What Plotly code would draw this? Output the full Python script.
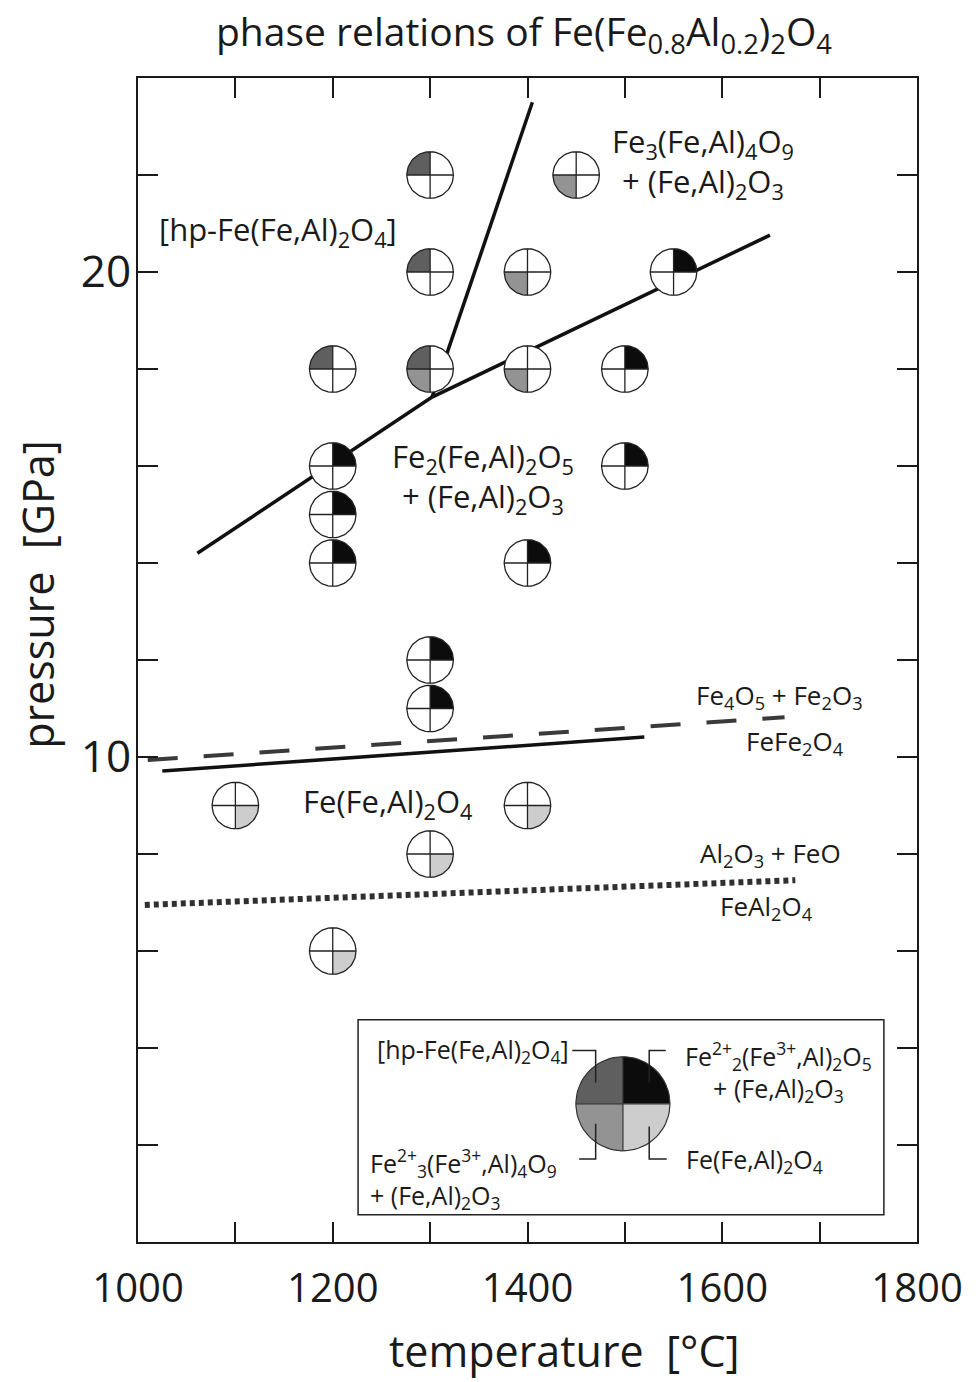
import numpy as np
import plotly.graph_objects as go

# ---------------- data ----------------
# experimental run conditions (temperature in degC, pressure in GPa)
temperature_c = [1300, 1450, 1300, 1400, 1550, 1200, 1300, 1400, 1500, 1200,
                 1500, 1200, 1200, 1400, 1300, 1300, 1100, 1400, 1300, 1200]
pressure_gpa = [22, 22, 20, 20, 20, 18, 18, 18, 18, 16,
                16, 15, 14, 14, 12, 11, 9, 9, 8, 6]
# phases observed in each run (1 = present)
has_hp_spinel = [1, 0, 1, 0, 0, 1, 1, 0, 0, 0, 0, 0, 0, 0, 0, 0, 0, 0, 0, 0]   # upper-left
has_fe4o5     = [0, 0, 0, 0, 1, 0, 0, 0, 1, 1, 1, 1, 1, 1, 1, 1, 0, 0, 0, 0]   # upper-right
has_fe7o9     = [0, 1, 0, 1, 0, 0, 1, 1, 0, 0, 0, 0, 0, 0, 0, 0, 0, 0, 0, 0]   # lower-left
has_spinel    = [0, 0, 0, 0, 0, 0, 0, 0, 0, 0, 0, 0, 0, 0, 0, 0, 1, 1, 1, 1]   # lower-right

# phase boundaries
bnd_main_t = [1061, 1302, 1649]
bnd_main_p = [14.2, 17.42, 20.76]
bnd_hp_t = [1302, 1405]
bnd_hp_p = [17.42, 23.5]
bnd_fe4o5_t = [1025, 1520]
bnd_fe4o5_p = [9.71, 10.41]
ref_fe4o5_t = [1010, 1664]
ref_fe4o5_p = [9.94, 10.82]
ref_feal_t = [1007, 1675]
ref_feal_p = [6.95, 7.46]

# axes ticks
x_tickvals = [1000, 1100, 1200, 1300, 1400, 1500, 1600, 1700, 1800]
x_ticktext = ["1000", "", "1200", "", "1400", "", "1600", "", "1800"]
y_tickvals = [0, 2, 4, 6, 8, 10, 12, 14, 16, 18, 20, 22, 24]
y_ticktext = ["", "", "", "", "", "10", "", "", "", "", "20", "", ""]

# legend symbol position
legend_center_t = 1498
legend_center_p = 2.85

# ---------------- styling ----------------
FONT = "Open Sans"
C_HP = "#5f5f5f"
C_FE4 = "#0c0c0c"
C_FE7 = "#939393"
C_SP = "#cdcdcd"
RX, RY = 23.9, 0.48          # symbol radius in data units
LRX, LRY = 48.3, 0.97        # legend symbol radius

QUAD = {"ul": (np.pi / 2, np.pi), "ur": (0, np.pi / 2),
        "ll": (np.pi, 1.5 * np.pi), "lr": (1.5 * np.pi, 2 * np.pi)}


def wedge(cx, cy, rx, ry, key, n=24):
    a0, a1 = QUAD[key]
    t = np.linspace(a0, a1, n)
    xs = [cx] + list(cx + rx * np.cos(t)) + [cx, None]
    ys = [cy] + list(cy + ry * np.sin(t)) + [cy, None]
    return xs, ys


def disk(cx, cy, rx, ry, n=72):
    t = np.linspace(0, 2 * np.pi, n)
    return list(cx + rx * np.cos(t)) + [None], list(cy + ry * np.sin(t)) + [None]


def outline(cx, cy, rx, ry):
    xs, ys = disk(cx, cy, rx, ry)
    xs += [cx - rx, cx + rx, None, cx, cx, None]
    ys += [cy, cy, None, cy - ry, cy + ry, None]
    return xs, ys


fig = go.Figure()

# boundaries (below symbols)
fig.add_trace(go.Scatter(x=ref_feal_t, y=ref_feal_p, mode="lines",
                         line=dict(color="#303030", width=6, dash="5px,4px"), hoverinfo="skip"))
fig.add_trace(go.Scatter(x=ref_fe4o5_t, y=ref_fe4o5_p, mode="lines",
                         line=dict(color="#3a3a3a", width=4, dash="30px,26px"), hoverinfo="skip"))
for xs, ys in [(bnd_main_t, bnd_main_p), (bnd_hp_t, bnd_hp_p), (bnd_fe4o5_t, bnd_fe4o5_p)]:
    fig.add_trace(go.Scatter(x=xs, y=ys, mode="lines",
                             line=dict(color="#111111", width=3.5), hoverinfo="skip"))

# white disks
dx, dy = [], []
for t, p in zip(temperature_c, pressure_gpa):
    a, b = disk(t, p, RX, RY)
    dx += a
    dy += b
fig.add_trace(go.Scatter(x=dx, y=dy, mode="lines", fill="toself", fillcolor="white",
                         line=dict(width=0, color="white"), hoverinfo="skip"))

# filled quadrants
for flags, key, col in [(has_hp_spinel, "ul", C_HP), (has_fe4o5, "ur", C_FE4),
                        (has_fe7o9, "ll", C_FE7), (has_spinel, "lr", C_SP)]:
    qx, qy = [], []
    for t, p, f in zip(temperature_c, pressure_gpa, flags):
        if f:
            a, b = wedge(t, p, RX, RY, key)
            qx += a
            qy += b
    fig.add_trace(go.Scatter(x=qx, y=qy, mode="lines", fill="toself", fillcolor=col,
                             line=dict(width=0, color=col), hoverinfo="skip"))

# outlines and crosses
ox, oy = [], []
for t, p in zip(temperature_c, pressure_gpa):
    a, b = outline(t, p, RX, RY)
    ox += a
    oy += b
fig.add_trace(go.Scatter(x=ox, y=oy, mode="lines",
                         line=dict(color="#222222", width=1.3), hoverinfo="skip"))

# legend symbol
for key, col in [("ul", C_HP), ("ur", C_FE4), ("ll", C_FE7), ("lr", C_SP)]:
    a, b = wedge(legend_center_t, legend_center_p, LRX, LRY, key, n=40)
    fig.add_trace(go.Scatter(x=a, y=b, mode="lines", fill="toself", fillcolor=col,
                             line=dict(width=0, color=col), hoverinfo="skip"))
a, b = outline(legend_center_t, legend_center_p, LRX, LRY)
fig.add_trace(go.Scatter(x=a, y=b, mode="lines",
                         line=dict(color="#333333", width=1.2), hoverinfo="skip"))

# legend brackets (relative to legend symbol)
lc, lp = legend_center_t, legend_center_p
bx = [lc - 52, lc - 28, lc - 28, None,
      lc + 44, lc + 27, lc + 27, None,
      lc - 45, lc - 28, lc - 28, None,
      lc + 45, lc + 27, lc + 27, None]
by = [lp + 1.10, lp + 1.10, lp + 0.44, None,
      lp + 1.10, lp + 1.10, lp + 0.44, None,
      lp - 1.14, lp - 1.14, lp - 0.41, None,
      lp - 1.14, lp - 1.14, lp - 0.47, None]
fig.add_trace(go.Scatter(x=bx, y=by, mode="lines",
                         line=dict(color="#222222", width=1.5), hoverinfo="skip"))

# legend box
fig.add_shape(type="rect", xref="x", yref="y", x0=1226, x1=1766, y0=0.56, y1=4.58,
              line=dict(color="#222222", width=1.5), fillcolor="rgba(0,0,0,0)", layer="below")

ann = []


def label(text, x, y, size, xanchor="center", align="center", ref="data", **kw):
    d = dict(text=text, x=x, y=y, showarrow=False, xanchor=xanchor, yanchor="middle",
             align=align, font=dict(family=FONT, size=size, color="#1a1a1a"))
    if ref == "data":
        d.update(xref="x", yref="y")
    else:
        d.update(xref="paper", yref="paper")
    d.update(kw)
    ann.append(d)


label("[hp-Fe(Fe,Al)<sub>2</sub>O<sub>4</sub>]", 1020, 20.85, 31, xanchor="left")
label("Fe<sub>3</sub>(Fe,Al)<sub>4</sub>O<sub>9</sub><br>+ (Fe,Al)<sub>2</sub>O<sub>3</sub>", 1580, 22.25, 31)
label("Fe<sub>2</sub>(Fe,Al)<sub>2</sub>O<sub>5</sub><br>+ (Fe,Al)<sub>2</sub>O<sub>3</sub>", 1354, 15.75, 31)
label("Fe(Fe,Al)<sub>2</sub>O<sub>4</sub>", 1257, 9.05, 31)
label("Fe<sub>4</sub>O<sub>5</sub> + Fe<sub>2</sub>O<sub>3</sub>", 1659, 11.25, 26)
label("FeFe<sub>2</sub>O<sub>4</sub>", 1675, 10.3, 26)
label("Al<sub>2</sub>O<sub>3</sub> + FeO", 1650, 8.0, 26)
label("FeAl<sub>2</sub>O<sub>4</sub>", 1645, 6.9, 26)

# legend texts
label("[hp-Fe(Fe,Al)<sub>2</sub>O<sub>4</sub>]", 1445, 3.95, 25, xanchor="right")
label("Fe<sup>2+</sup><sub>2</sub>(Fe<sup>3+</sup>,Al)<sub>2</sub>O<sub>5</sub><br>+ (Fe,Al)<sub>2</sub>O<sub>3</sub>",
      1658, 3.5, 25)
label("Fe<sup>2+</sup><sub>3</sub>(Fe<sup>3+</sup>,Al)<sub>4</sub>O<sub>9</sub><br>+ (Fe,Al)<sub>2</sub>O<sub>3</sub>",
      1236, 1.3, 25, xanchor="left", align="left")
label("Fe(Fe,Al)<sub>2</sub>O<sub>4</sub>", 1561, 1.68, 25, xanchor="left")

# title and axis titles
label("phase relations of Fe(Fe<sub>0.8</sub>Al<sub>0.2</sub>)<sub>2</sub>O<sub>4</sub>", 0.495, 1.0, 39,
      ref="paper", yshift=45)
label("temperature  [°C]", 0.548, 0.0, 43, ref="paper", yshift=-108)
label("pressure  [GPa]", 0.0, 0.556, 43, ref="paper", xshift=-100, textangle=-90)

fig.update_layout(
    width=976, height=1382,
    margin=dict(l=138, r=59, t=78, b=140),
    paper_bgcolor="white", plot_bgcolor="white",
    showlegend=False,
    annotations=ann,
    font=dict(family=FONT, color="#1a1a1a"),
    xaxis=dict(range=[1000, 1800], tickvals=x_tickvals, ticktext=x_ticktext,
               ticks="inside", ticklen=20, tickwidth=2, tickcolor="#1a1a1a",
               showline=True, linewidth=2, linecolor="#1a1a1a", mirror="allticks",
               showgrid=False, zeroline=False, tickfont=dict(size=40, family=FONT),
               ticklabelstandoff=10),
    yaxis=dict(range=[0, 24], tickvals=y_tickvals, ticktext=y_ticktext,
               ticks="inside", ticklen=20, tickwidth=2, tickcolor="#1a1a1a",
               showline=True, linewidth=2, linecolor="#1a1a1a", mirror="allticks",
               showgrid=False, zeroline=False, tickfont=dict(size=44, family=FONT),
               ticklabelstandoff=-4),
)

fig.write_html("out.html", config={"displayModeBar": False},
               post_script="document.body.style.margin='0';")
